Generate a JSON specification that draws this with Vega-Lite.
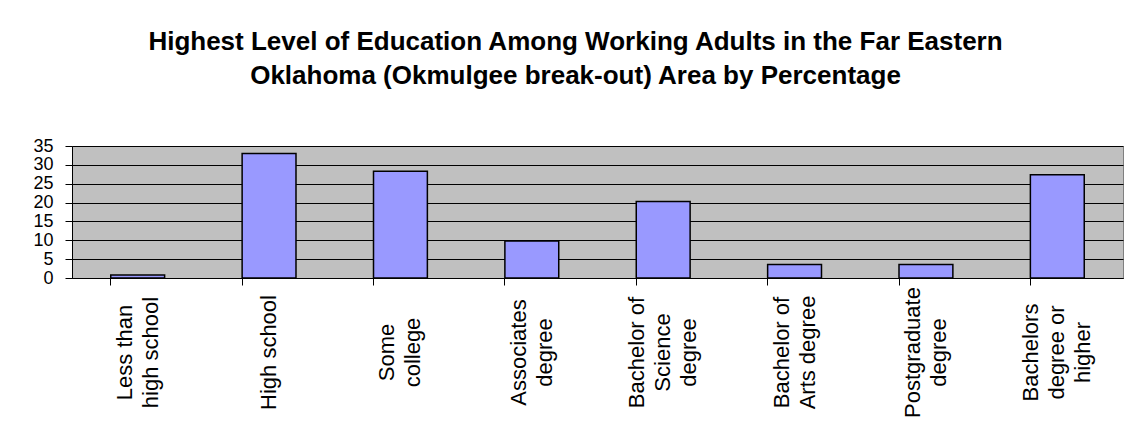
{
  "$schema": "https://vega.github.io/schema/vega-lite/v6.json",
  "width": 1051,
  "height": 132,
  "autosize": {"type": "none"},
  "padding": {"left": 72, "top": 146, "right": 8, "bottom": 168},
  "background": "white",
  "title": {
    "text": ["Highest Level of Education Among Working Adults in the Far Eastern", "Oklahoma (Okmulgee break-out) Area by Percentage"],
    "font": "Liberation Sans",
    "fontSize": 26,
    "fontWeight": "bold",
    "lineHeight": 34,
    "color": "black",
    "anchor": "middle",
    "frame": "group",
    "baseline": "bottom",
    "dx": -22,
    "offset": 22
  },
  "data": {
    "values": [
      {"level": "Less than high school", "percent": 0.8},
      {"level": "High school", "percent": 33},
      {"level": "Some college", "percent": 28.3},
      {"level": "Associates degree", "percent": 9.8},
      {"level": "Bachelor of Science degree", "percent": 20.3},
      {"level": "Bachelor of Arts degree", "percent": 3.6},
      {"level": "Postgraduate degree", "percent": 3.6},
      {"level": "Bachelors degree or higher", "percent": 27.4}
    ]
  },
  "mark": {"type": "bar", "color": "#9999FF", "stroke": "black", "strokeWidth": 1.5},
  "encoding": {
    "x": {
      "field": "level",
      "type": "nominal",
      "sort": null,
      "scale": {"paddingInner": 0.59, "paddingOuter": 0.295},
      "axis": {
        "title": null,
        "labelAngle": -90,
        "labelAlign": "center",
        "labelBaseline": "middle",
        "labelPadding": 67,
        "labelFont": "Liberation Sans",
        "labelFontSize": 22,
        "labelLineHeight": 26,
        "labelColor": "black",
        "labelLimit": 300,
        "labelOverlap": false,
        "labelOffset": {
          "condition": [
            {"test": "datum.value == 'Bachelor of Science degree' || datum.value == 'Bachelors degree or higher'", "value": -26},
            {"test": "datum.value != 'High school'", "value": -13}
          ],
          "value": 0
        },
        "labelExpr": "datum.value == 'Less than high school' ? ['Less than', 'high school'] : datum.value == 'Some college' ? ['Some', 'college'] : datum.value == 'Associates degree' ? ['Associates', 'degree'] : datum.value == 'Bachelor of Science degree' ? ['Bachelor of', 'Science', 'degree'] : datum.value == 'Bachelor of Arts degree' ? ['Bachelor of', 'Arts degree'] : datum.value == 'Postgraduate degree' ? ['Postgraduate', 'degree'] : datum.value == 'Bachelors degree or higher' ? ['Bachelors', 'degree or', 'higher'] : datum.value",
        "bandPosition": 0,
        "ticks": true,
        "tickSize": 7,
        "tickColor": "black",
        "domainColor": "black",
        "domainWidth": 1,
        "grid": false
      }
    },
    "y": {
      "field": "percent",
      "type": "quantitative",
      "scale": {"domain": [0, 35], "nice": false},
      "axis": {
        "title": null,
        "values": [0, 5, 10, 15, 20, 25, 30, 35],
        "labelFont": "Liberation Sans",
        "labelFontSize": 18,
        "labelColor": "black",
        "labelPadding": 12,
        "labelOverlap": false,
        "tickSize": 7,
        "tickColor": "black",
        "domainColor": "black",
        "grid": true,
        "gridColor": "black",
        "gridWidth": 1,
        "gridOpacity": 1
      }
    }
  },
  "config": {
    "view": {"fill": "#C0C0C0", "stroke": "#808080", "strokeWidth": 1}
  }
}
